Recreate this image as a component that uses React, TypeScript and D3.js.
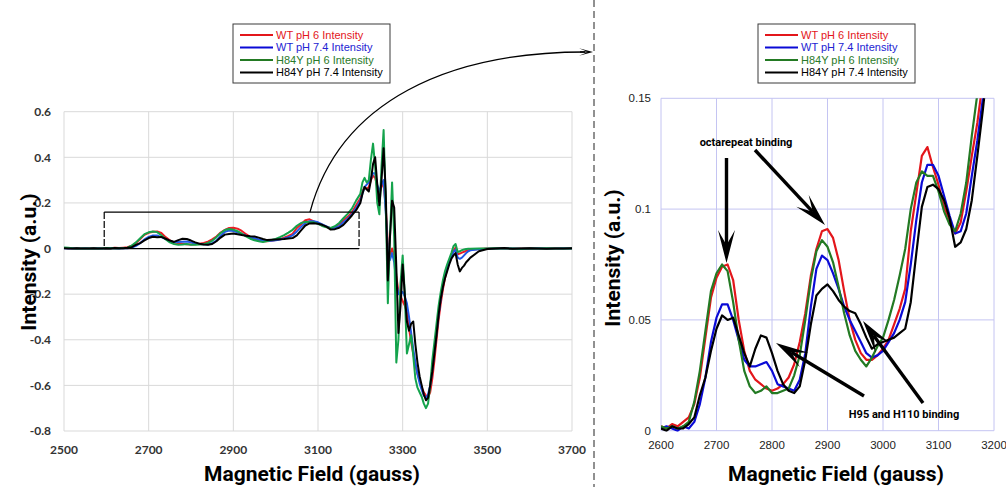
import React, { useEffect, useRef } from "react";
import * as d3 from "d3";

const W = 1006;
const H = 487;

// field grid in gauss: 10 G steps up to 3200, 5 G through the sharp g-parallel features, 20 G tail
const fieldLow = d3.range(2500, 3200, 10);
const fieldMid = d3.range(3200, 3460, 5);
const fieldTail = d3.range(3460, 3701, 20);
const fields = [...fieldLow, ...fieldMid, ...fieldTail];

const seriesNames = [
  "WT pH 6 Intensity",
  "WT pH 7.4 Intensity",
  "H84Y pH 6 Intensity",
  "H84Y pH 7.4 Intensity"
];

const wtPh6 = [
  // 2500-3190
  0.002, 0.001, 0.0, 0.001, 0.0, 0.001, 0.0, 0.001, 0.0, 0.001,
  0.002, 0.001, 0.003, 0.002, 0.004, 0.006, 0.012, 0.024, 0.042, 0.06,
  0.069, 0.074, 0.075, 0.068, 0.05, 0.036, 0.027, 0.023, 0.021, 0.019,
  0.018, 0.019, 0.021, 0.024, 0.03, 0.04, 0.053, 0.07, 0.082, 0.09,
  0.091, 0.087, 0.077, 0.063, 0.05, 0.041, 0.035, 0.032, 0.032, 0.034,
  0.037, 0.041, 0.048, 0.055, 0.064, 0.09, 0.107, 0.124, 0.128, 0.119,
  0.111, 0.101, 0.095, 0.089, 0.094, 0.108, 0.124, 0.139, 0.158, 0.19,
  // 3200-3455
  0.22, 0.25, 0.27, 0.26, 0.27, 0.3, 0.32, 0.31, 0.27, 0.24,
  0.27, 0.29, 0.18, 0.02, -0.03, 0.0, -0.03, -0.12, -0.19, -0.21,
  -0.23, -0.25, -0.28, -0.35, -0.41, -0.46, -0.51, -0.55, -0.58, -0.61,
  -0.63, -0.645, -0.65, -0.63, -0.57, -0.49, -0.4, -0.31, -0.24, -0.18,
  -0.13, -0.09, -0.055, -0.03, -0.01, 0.005, -0.025, -0.022, -0.018, -0.014,
  -0.01, -0.007,
  // 3460-3700
  -0.005, -0.002, 0.0, 0.001, 0.0, -0.001, 0.0, 0.001, 0.0, 0.0, 0.001, 0.0, 0.0
];

const wtPh74 = [
  0.001, 0.0, 0.001, 0.0, 0.0, 0.001, 0.0, 0.0, 0.001, 0.0,
  0.001, 0.002, 0.001, 0.0, 0.002, 0.001, 0.004, 0.012, 0.024, 0.04,
  0.051, 0.057, 0.057, 0.05, 0.041, 0.032, 0.029, 0.029, 0.03, 0.031,
  0.027, 0.021, 0.02, 0.019, 0.018, 0.023, 0.035, 0.056, 0.073, 0.079,
  0.077, 0.071, 0.064, 0.056, 0.05, 0.045, 0.04, 0.035, 0.033, 0.034,
  0.036, 0.04, 0.044, 0.05, 0.058, 0.075, 0.095, 0.112, 0.12, 0.12,
  0.115, 0.106, 0.097, 0.089, 0.09, 0.098, 0.115, 0.131, 0.15, 0.178,
  0.21, 0.24, 0.27, 0.28, 0.29, 0.31, 0.33, 0.33, 0.28, 0.25,
  0.28, 0.3, 0.16, -0.01, -0.05, -0.02, -0.06, -0.15, -0.2, -0.2,
  -0.19, -0.21, -0.24, -0.3, -0.37, -0.44, -0.5, -0.55, -0.59, -0.62,
  -0.645, -0.655, -0.64, -0.6, -0.53, -0.45, -0.37, -0.29, -0.22, -0.16,
  -0.11, -0.08, -0.055, -0.035, -0.015, -0.005, -0.04, -0.045, -0.04, -0.03,
  -0.02, -0.012,
  -0.008, -0.003, -0.001, 0.0, 0.001, 0.0, -0.001, 0.0, 0.001, 0.0, 0.0, 0.001, 0.0
];

const h84yPh6 = [
  0.005, 0.003, 0.001, 0.0, 0.0, 0.0, 0.0, 0.0, 0.0, 0.0,
  0.002, 0.001, 0.002, 0.001, 0.002, 0.004, 0.013, 0.027, 0.045, 0.063,
  0.071, 0.075, 0.072, 0.058, 0.041, 0.027, 0.02, 0.017, 0.018, 0.02,
  0.017, 0.017, 0.018, 0.019, 0.025, 0.034, 0.05, 0.068, 0.081, 0.086,
  0.083, 0.076, 0.065, 0.053, 0.043, 0.036, 0.032, 0.029, 0.033, 0.038,
  0.042, 0.05, 0.059, 0.07, 0.082, 0.1, 0.112, 0.117, 0.115, 0.115,
  0.108, 0.099, 0.093, 0.09, 0.098, 0.112, 0.133, 0.152, 0.175, 0.21,
  0.24, 0.29, 0.31, 0.29, 0.3, 0.39, 0.46, 0.36, 0.2, 0.15,
  0.36, 0.52, 0.2, -0.24, 0.05, 0.29, 0.05, -0.5, -0.4, -0.15,
  -0.03, -0.2, -0.46, -0.42, -0.38, -0.47, -0.57, -0.61, -0.63, -0.65,
  -0.68, -0.7, -0.68, -0.6, -0.49, -0.41, -0.33, -0.25, -0.19, -0.14,
  -0.1, -0.07, -0.045, -0.02, 0.01, 0.02, -0.015, -0.012, -0.007, -0.004,
  -0.002, -0.001,
  -0.001, 0.0, 0.0, 0.001, 0.0, 0.0, -0.001, 0.0, 0.0, 0.001, 0.0, 0.0, 0.0
];

const h84yPh74 = [
  0.001, 0.0, 0.0, 0.001, 0.0, 0.0, 0.0, 0.001, 0.0, 0.0,
  0.001, 0.0, 0.002, 0.001, 0.001, 0.003, 0.006, 0.016, 0.024, 0.036,
  0.046, 0.052, 0.05, 0.051, 0.043, 0.035, 0.029, 0.037, 0.043, 0.042,
  0.035, 0.027, 0.021, 0.018, 0.017, 0.02, 0.032, 0.048, 0.061, 0.064,
  0.066, 0.063, 0.059, 0.056, 0.054, 0.053, 0.048, 0.042, 0.037, 0.039,
  0.04, 0.041, 0.042, 0.044, 0.046, 0.058, 0.08, 0.101, 0.11, 0.111,
  0.109, 0.104, 0.096, 0.083, 0.085, 0.091, 0.104, 0.124, 0.145, 0.168,
  0.2, 0.24, 0.27, 0.26, 0.25, 0.3, 0.37, 0.4, 0.28, 0.19,
  0.3, 0.44, 0.25, -0.14, 0.05, 0.21, 0.18, -0.08, -0.37, -0.25,
  -0.07, -0.2, -0.32, -0.36, -0.33, -0.32, -0.42, -0.5, -0.56, -0.6,
  -0.64, -0.665, -0.655, -0.6, -0.54, -0.46, -0.38, -0.29, -0.22, -0.17,
  -0.13, -0.1, -0.07, -0.045, -0.03, -0.02, -0.07, -0.1, -0.085, -0.075,
  -0.06, -0.05,
  -0.04, -0.012, -0.002, 0.0, 0.002, -0.001, 0.0, 0.001, 0.0, -0.001, 0.0, 0.0, 0.001
];

const seriesValues = [wtPh6, wtPh74, h84yPh6, h84yPh74];

// full spectrum axes
const fullXTicks = [2500, 2700, 2900, 3100, 3300, 3500, 3700];
const fullYTicks = [0.6, 0.4, 0.2, 0, -0.2, -0.4, -0.6, -0.8];
const fullYLabels = ["0.6", "0.4", "0.2", "0", "-0.2", "-0.4", "-0.6", "-0.8"];

// zoomed g-parallel region axes
const zoomXTicks = [2600, 2700, 2800, 2900, 3000, 3100, 3200];
const zoomYTicks = [0, 0.05, 0.1, 0.15];
const zoomYLabels = ["0", "0.05", "0.1", "0.15"];

const fullColors = ["#ec1c24", "#2158e6", "#14a34c", "#000000"];
const zoomColors = ["#e3161b", "#0a0ad6", "#237a23", "#000000"];
const legendText = ["#e3161b", "#2323d2", "#2a7a2a", "#000000"];

const titleFont = "Roboto, 'Noto Sans', sans-serif";

function stealth(g, x1, y1, x2, y2, len, half, notch, width) {
  const dx = x2 - x1;
  const dy = y2 - y1;
  const d = Math.sqrt(dx * dx + dy * dy);
  const ux = dx / d;
  const uy = dy / d;
  const nx = -uy;
  const ny = ux;
  g.append("line")
    .attr("x1", x1)
    .attr("y1", y1)
    .attr("x2", x2 - ux * notch)
    .attr("y2", y2 - uy * notch)
    .attr("stroke", "#000")
    .attr("stroke-width", width);
  const pts = [
    [x2, y2],
    [x2 - ux * len + nx * half, y2 - uy * len + ny * half],
    [x2 - ux * notch, y2 - uy * notch],
    [x2 - ux * len - nx * half, y2 - uy * len - ny * half]
  ];
  g.append("polygon")
    .attr("points", pts.map(p => p.join(",")).join(" "))
    .attr("fill", "#000");
}

function legend(svg, x, y, lineX1, lineX2, textX) {
  const g = svg.append("g");
  g.append("rect")
    .attr("x", x)
    .attr("y", y)
    .attr("width", 157)
    .attr("height", 59)
    .attr("fill", "#fff")
    .attr("stroke", "#3a3a3a")
    .attr("stroke-width", 1);
  seriesNames.forEach((name, i) => {
    const cy = y + 11 + i * 12.5;
    g.append("line")
      .attr("x1", lineX1)
      .attr("x2", lineX2)
      .attr("y1", cy)
      .attr("y2", cy)
      .attr("stroke", zoomColors[i])
      .attr("stroke-width", 2);
    g.append("text")
      .attr("x", textX)
      .attr("y", cy)
      .attr("dy", "0.35em")
      .attr("font-family", "'Liberation Sans', Arial, sans-serif")
      .attr("font-size", 11)
      .attr("fill", legendText[i])
      .text(name);
  });
}

export default function App() {
  const svgRef = useRef(null);

  useEffect(() => {
    const svg = d3.select(svgRef.current);
    svg.selectAll("*").remove();

    svg.append("rect").attr("width", W).attr("height", H).attr("fill", "#fff");

    // ---------- left: full spectrum ----------
    const x1 = d3.scaleLinear().domain([2500, 3700]).range([64, 572]);
    const y1 = d3.scaleLinear().domain([-0.8, 0.6]).range([431, 111.7]);

    const left = svg.append("g");
    left.selectAll(".vg")
      .data(fullXTicks)
      .enter()
      .append("line")
      .attr("x1", d => x1(d))
      .attr("x2", d => x1(d))
      .attr("y1", y1(0.6))
      .attr("y2", y1(-0.8))
      .attr("stroke", "#d9d9d9")
      .attr("stroke-width", 1);
    left.selectAll(".hg")
      .data(fullYTicks)
      .enter()
      .append("line")
      .attr("x1", x1(2500))
      .attr("x2", x1(3700))
      .attr("y1", d => y1(d))
      .attr("y2", d => y1(d))
      .attr("stroke", "#d9d9d9")
      .attr("stroke-width", 1);

    left.selectAll(".yl")
      .data(fullYTicks)
      .enter()
      .append("text")
      .attr("x", 51)
      .attr("y", d => y1(d))
      .attr("dy", "0.35em")
      .attr("text-anchor", "end")
      .attr("font-family", "Lato, 'Open Sans', sans-serif")
      .attr("font-weight", "bold")
      .attr("font-size", 12)
      .attr("fill", "#333")
      .text((d, i) => fullYLabels[i]);
    left.selectAll(".xl")
      .data(fullXTicks)
      .enter()
      .append("text")
      .attr("x", d => x1(d))
      .attr("y", 450)
      .attr("dy", "0.35em")
      .attr("text-anchor", "middle")
      .attr("font-family", "Lato, 'Open Sans', sans-serif")
      .attr("font-weight", "bold")
      .attr("font-size", 12)
      .attr("fill", "#333")
      .text(d => d);

    const line1 = d3
      .line()
      .x((d, i) => x1(fields[i]))
      .y(d => y1(d));
    seriesValues.forEach((vals, i) => {
      left.append("path")
        .attr("d", line1(vals))
        .attr("fill", "none")
        .attr("stroke", fullColors[i])
        .attr("stroke-width", 2)
        .attr("stroke-linejoin", "round");
    });

    // zoom box around the g-parallel region
    const bx0 = x1(2595);
    const bx1 = x1(3197);
    const by0 = y1(0.16);
    const by1 = y1(0);
    left.append("line").attr("x1", bx0).attr("x2", bx1).attr("y1", by0).attr("y2", by0)
      .attr("stroke", "#000").attr("stroke-width", 1.2);
    left.append("line").attr("x1", bx0).attr("x2", bx1).attr("y1", by1).attr("y2", by1)
      .attr("stroke", "#000").attr("stroke-width", 1.2);
    [bx0, bx1].forEach(bx => {
      left.append("line").attr("x1", bx).attr("x2", bx).attr("y1", by0).attr("y2", by1)
        .attr("stroke", "#000").attr("stroke-width", 1.2).attr("stroke-dasharray", "7,2");
    });

    left.append("text")
      .attr("transform", "translate(29,262) rotate(-90)")
      .attr("text-anchor", "middle")
      .attr("dy", "0.35em")
      .attr("font-family", titleFont)
      .attr("font-weight", "bold")
      .attr("font-size", 21)
      .text("Intensity (a.u.)");
    left.append("text")
      .attr("x", 312)
      .attr("y", 481)
      .attr("text-anchor", "middle")
      .attr("font-family", titleFont)
      .attr("font-weight", "bold")
      .attr("font-size", 21)
      .text("Magnetic Field (gauss)");

    legend(svg, 233, 24, 240, 273, 276);

    // separator and curved pointer
    svg.append("line")
      .attr("x1", 594)
      .attr("x2", 594)
      .attr("y1", 0)
      .attr("y2", H)
      .attr("stroke", "#222")
      .attr("stroke-width", 1)
      .attr("stroke-dasharray", "7,4");
    const arc = d3.path();
    arc.moveTo(310, by0);
    arc.bezierCurveTo(340, 100, 450, 52, 585, 52);
    svg.append("path")
      .attr("d", arc.toString())
      .attr("fill", "none")
      .attr("stroke", "#000")
      .attr("stroke-width", 1.3);
    stealth(svg, 580, 52, 593, 52, 14, 3.8, 5, 1.3);

    // ---------- right: zoomed region ----------
    const x2 = d3.scaleLinear().domain([2600, 3200]).range([661, 994]);
    const y2 = d3.scaleLinear().domain([0, 0.15]).range([430.7, 98.3]);
    const right = svg.append("g");

    right.selectAll(".vg2")
      .data(zoomXTicks)
      .enter()
      .append("line")
      .attr("x1", d => x2(d))
      .attr("x2", d => x2(d))
      .attr("y1", y2(0.15))
      .attr("y2", y2(0))
      .attr("stroke", "#c4c4f2")
      .attr("stroke-width", 1);
    right.selectAll(".hg2")
      .data(zoomYTicks)
      .enter()
      .append("line")
      .attr("x1", x2(2600))
      .attr("x2", x2(3200))
      .attr("y1", d => y2(d))
      .attr("y2", d => y2(d))
      .attr("stroke", "#c4c4f2")
      .attr("stroke-width", 1);

    right.selectAll(".yl2")
      .data(zoomYTicks)
      .enter()
      .append("text")
      .attr("x", 651)
      .attr("y", d => y2(d))
      .attr("dy", "0.35em")
      .attr("text-anchor", "end")
      .attr("font-family", "'Liberation Sans', Arial, sans-serif")
      .attr("font-size", 11.5)
      .attr("fill", "#222")
      .text((d, i) => zoomYLabels[i]);
    right.selectAll(".xl2")
      .data(zoomXTicks)
      .enter()
      .append("text")
      .attr("x", d => x2(d))
      .attr("y", 445)
      .attr("dy", "0.35em")
      .attr("text-anchor", "middle")
      .attr("font-family", "'Liberation Sans', Arial, sans-serif")
      .attr("font-size", 11.5)
      .attr("fill", "#222")
      .text(d => d);

    svg.append("clipPath")
      .attr("id", "zoomclip")
      .append("rect")
      .attr("x", x2(2600))
      .attr("y", y2(0.15))
      .attr("width", x2(3200) - x2(2600))
      .attr("height", y2(0) - y2(0.15) + 1);

    const line2 = d3
      .line()
      .defined((d, i) => fields[i] >= 2600 && fields[i] <= 3210)
      .x((d, i) => x2(fields[i]))
      .y(d => y2(d));
    const traces = right.append("g").attr("clip-path", "url(#zoomclip)");
    seriesValues.forEach((vals, i) => {
      traces.append("path")
        .attr("d", line2(vals))
        .attr("fill", "none")
        .attr("stroke", zoomColors[i])
        .attr("stroke-width", 2.2)
        .attr("stroke-linejoin", "round");
    });

    right.append("text")
      .attr("transform", "translate(613,258) rotate(-90)")
      .attr("text-anchor", "middle")
      .attr("dy", "0.35em")
      .attr("font-family", titleFont)
      .attr("font-weight", "bold")
      .attr("font-size", 21)
      .text("Intensity (a.u.)");
    right.append("text")
      .attr("x", 836)
      .attr("y", 481)
      .attr("text-anchor", "middle")
      .attr("font-family", titleFont)
      .attr("font-weight", "bold")
      .attr("font-size", 21)
      .text("Magnetic Field (gauss)");

    // annotations
    right.append("text")
      .attr("x", 746)
      .attr("y", 142)
      .attr("dy", "0.35em")
      .attr("text-anchor", "middle")
      .attr("font-family", titleFont)
      .attr("font-weight", "bold")
      .attr("font-size", 11)
      .text("octarepeat binding");
    right.append("text")
      .attr("x", 904)
      .attr("y", 414)
      .attr("dy", "0.35em")
      .attr("text-anchor", "middle")
      .attr("font-family", titleFont)
      .attr("font-weight", "bold")
      .attr("font-size", 11)
      .text("H95 and H110 binding");

    stealth(right, 726.5, 158, 726.5, 263, 33, 8.5, 18, 3.4);
    stealth(right, 755, 150, 825, 225, 33, 8.5, 18, 3.4);
    stealth(right, 864, 396, 776, 343, 33, 8.5, 18, 3.4);
    stealth(right, 923, 403, 863, 321, 33, 8.5, 18, 3.4);

    legend(svg, 758, 24, 765, 798, 801);
  }, []);

  return (
    <div style={{ position: "absolute", left: 0, top: 0 }}>
      <svg ref={svgRef} width={W} height={H} />
    </div>
  );
}
